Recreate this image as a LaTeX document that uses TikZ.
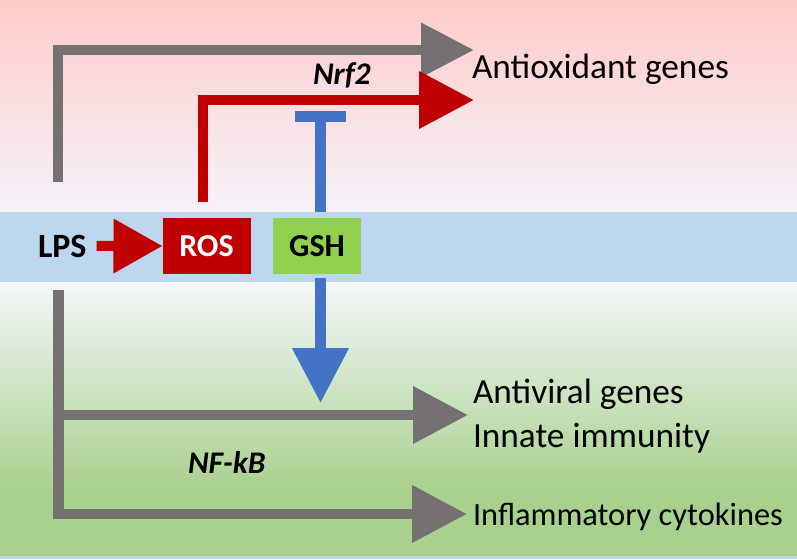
\documentclass[tikz,border=0pt]{standalone}
\usepackage{fontspec}
\setmainfont{Carlito}
\usetikzlibrary{arrows.meta,calc}
\definecolor{pgray}{HTML}{767171}
\definecolor{pred}{HTML}{C00000}
\definecolor{pblue}{HTML}{4472C4}
\definecolor{pgreen}{HTML}{92D050}
\definecolor{band}{HTML}{BDD7EE}
\definecolor{pinktop}{HTML}{FFCBCA}
\definecolor{paletop}{HTML}{F4F3F9}
\definecolor{palebot}{HTML}{F4F7FA}
\definecolor{greenbg}{HTML}{A9D18E}
\begin{document}
\begin{tikzpicture}[x=1pt,y=-1pt,
  every node/.style={inner sep=0pt, outer sep=0pt},
  gene/.style={anchor=base west, font=\fontsize{35.3}{40}\selectfont},
  italab/.style={anchor=base west, font=\fontsize{31.5}{36}\selectfont\bfseries\itshape},
  molbox/.style={minimum width=88pt, minimum height=56pt, font=\fontsize{32}{38}\selectfont\bfseries},
  garrow/.style={draw=pgray, line width=10.5pt},
  rarrow/.style={draw=pred, line width=10.5pt},
  barrow/.style={draw=pblue, line width=11pt}
]
% background
\useasboundingbox (0,0) rectangle (797,559);
\shade[top color=pinktop, bottom color=paletop] (0,0) rectangle (797,212);
\fill[band] (0,212) rectangle (797,282);
\shade[top color=palebot, bottom color=greenbg] (0,282) rectangle (797,490);
\fill[greenbg] (0,489.5) rectangle (797,556);
\fill[band] (0,556) rectangle (797,559);

% nodes
\node[anchor=base west, font=\fontsize{34}{38}\selectfont\bfseries] (lps) at (38,257) {LPS};
\node[molbox, fill=pred, text=white] (ros) at (206.5,246) {ROS};
\node[molbox, fill=pgreen, text=black] (gsh) at (317,246) {GSH};

\node[gene] (antiox) at (472,79) {Antioxidant genes};
\node[gene] (antivir) at (473,403) {Antiviral genes};
\node[gene] (innate) at (473,447) {Innate immunity};
\node[gene, font=\fontsize{32.4}{38}\selectfont] (inflam) at (473,525) {Inflammatory cytokines};
\node[italab] (nrf2) at (313,85) {Nrf2};
\node[italab] (nfkb) at (188,473) {NF-kB};

% coordinates for free ends
\coordinate (g1s) at (58,182);
\coordinate (g1e) at (474,50);
\coordinate (r1s) at (203,202);
\coordinate (r1e) at (474,100);
\coordinate (g2s) at (58.5,290);
\coordinate (g2a) at (468,415);
\coordinate (g2b) at (467,514);

% connectors
\draw[garrow, -{Triangle[length=53pt,width=52pt]}] (g1s) |- (g1e);
\draw[rarrow, -{Triangle[length=55pt,width=55pt]}] (r1s) |- (r1e);
\draw[rarrow, line width=10pt, -{Triangle[length=49pt,width=52pt]}] ($(lps.east)+(10,0)$) -- (ros.west);
\draw[barrow, -{Rectangle[length=11pt,width=51pt]}] ($(gsh.north)+(3.5,-6)$) -- ($(gsh.north)+(3.5,-107)$);
\draw[barrow, -{Triangle[length=55pt,width=54pt]}] ($(gsh.south)+(3.5,4)$) -- ($(gsh.south)+(3.5,129)$);
\draw[garrow, -{Triangle[length=55pt,width=55pt]}] (g2s) |- (g2b);
\draw[garrow, -{Triangle[length=55pt,width=55pt]}] (g2s |- g2a) -- (g2a);
\end{tikzpicture}
\end{document}
